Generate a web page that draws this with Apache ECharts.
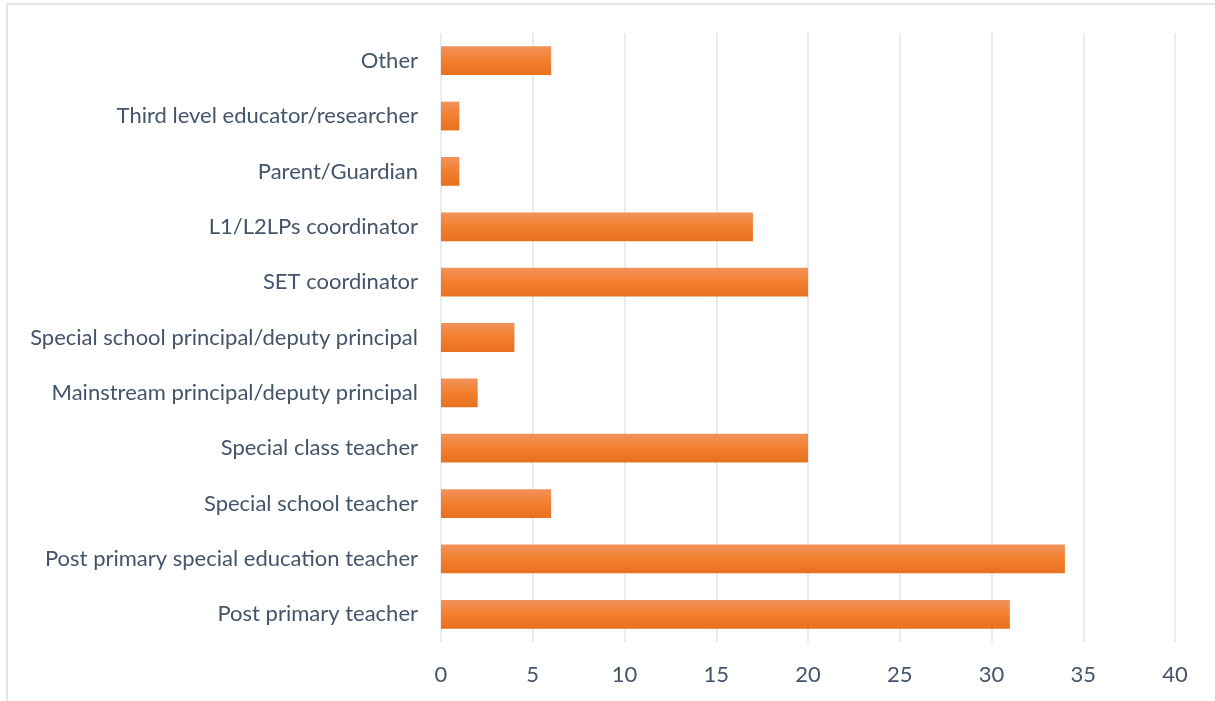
<!DOCTYPE html>
<html>
<head>
<meta charset="utf-8">
<script src="https://cdn.jsdelivr.net/npm/echarts@6/dist/echarts.min.js"></script>
<style>
html,body{margin:0;padding:0;background:#fff;}
#frame{position:absolute;left:6px;top:3px;width:1215px;height:701px;border-left:2px solid #e1e4e9;border-top:2px solid #e1e4e9;box-sizing:border-box;}
#chart{position:absolute;left:0;top:0;width:1215px;height:701px;}
</style>
</head>
<body>
<div id="frame"></div>
<div id="chart"></div>
<script>
const categories = [
  "Post primary teacher",
  "Post primary special education teacher",
  "Special school teacher",
  "Special class teacher",
  "Mainstream principal/deputy principal",
  "Special school principal/deputy principal",
  "SET coordinator",
  "L1/L2LPs coordinator",
  "Parent/Guardian",
  "Third level educator/researcher",
  "Other"
];
const values = [31, 34, 6, 20, 2, 4, 20, 17, 1, 1, 6];
const xMin = 0, xMax = 40, xStep = 5;

const chart = echarts.init(document.getElementById('chart'), null, {renderer: 'canvas'});
const textColor = '#44546A';
const font = 'Lato, "Open Sans", sans-serif';
chart.setOption({
  animation: false,
  backgroundColor: 'transparent',
  grid: {left: 441, right: 40, top: 33, bottom: 59, containLabel: false},
  xAxis: {
    type: 'value', min: xMin, max: xMax, interval: xStep,
    axisLine: {show: false}, axisTick: {show: false},
    splitLine: {show: true, lineStyle: {color: '#E1E5EA', width: 1.5}},
    axisLabel: {color: textColor, fontSize: 22, fontFamily: font, margin: 22}
  },
  yAxis: {
    type: 'category', data: categories,
    axisLine: {show: false}, axisTick: {show: false},
    splitLine: {show: false},
    axisLabel: {color: textColor, fontSize: 22, fontFamily: font, margin: 23}
  },
  series: [{
    type: 'bar', data: values, barCategoryGap: '48%',
    itemStyle: {
      color: new echarts.graphic.LinearGradient(0, 0, 0, 1, [
        {offset: 0, color: '#F2935C'},
        {offset: 0.5, color: '#F27F2D'},
        {offset: 1, color: '#E8701E'}
      ])
    }
  }]
});
</script>
</body>
</html>
